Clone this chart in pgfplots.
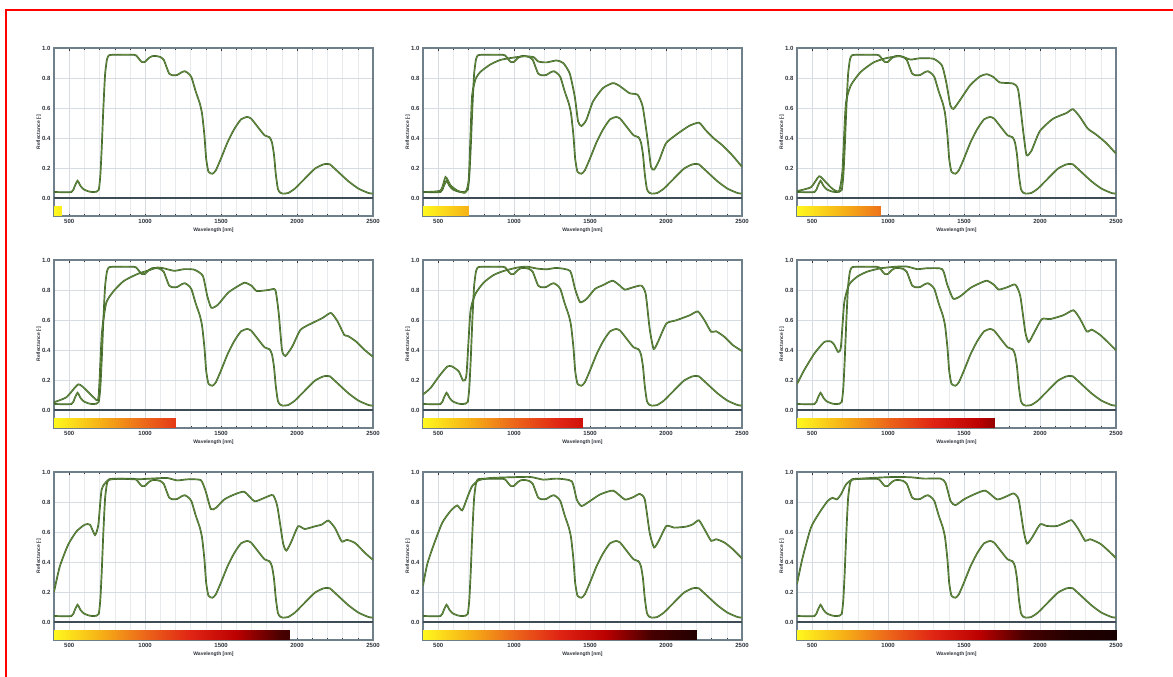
\documentclass[border=0pt]{standalone}
\usepackage{fontspec}
\setmainfont{Liberation Sans}
\usepackage{pgfplots}
\pgfplotsset{compat=1.18}
\usepackage{pgfplotstable}

\definecolor{curve}{RGB}{62,100,44}
\definecolor{curvehi}{RGB}{125,165,65}
\definecolor{frame}{RGB}{112,128,138}
\definecolor{zeroline}{RGB}{62,76,86}
\definecolor{txt}{RGB}{45,52,60}

% base spectrum (same in every panel)
\pgfplotstableread{
wl r
400 0.040
515 0.040
535 0.075
555 0.115
575 0.080
595 0.058
625 0.045
650 0.040
680 0.042
695 0.055
705 0.150
714 0.330
725 0.600
736 0.820
748 0.920
760 0.950
790 0.955
925 0.955
946 0.945
965 0.920
980 0.906
1000 0.908
1023 0.932
1045 0.945
1068 0.947
1100 0.940
1123 0.920
1140 0.875
1158 0.830
1180 0.818
1211 0.820
1240 0.838
1262 0.845
1285 0.830
1305 0.805
1333 0.710
1360 0.630
1375 0.560
1390 0.420
1402 0.260
1417 0.175
1443 0.162
1465 0.184
1498 0.260
1543 0.373
1587 0.460
1631 0.524
1671 0.540
1698 0.529
1742 0.473
1786 0.418
1819 0.405
1835 0.370
1848 0.290
1860 0.160
1874 0.060
1890 0.035
1907 0.029
1941 0.033
1985 0.062
2051 0.129
2118 0.196
2173 0.224
2200 0.227
2217 0.224
2272 0.173
2339 0.111
2405 0.062
2471 0.033
2500 0.029
}\base

\pgfplotstableread{
wl r
400 0.040
516 0.050
548 0.140
581 0.085
625 0.050
679 0.036
701 0.120
712 0.400
723 0.680
745 0.790
777 0.840
843 0.890
908 0.920
974 0.933
1061 0.944
1126 0.940
1159 0.910
1213 0.904
1279 0.917
1323 0.900
1366 0.830
1399 0.676
1421 0.510
1443 0.480
1475 0.520
1519 0.643
1584 0.732
1650 0.766
1693 0.748
1759 0.699
1813 0.688
1846 0.610
1879 0.386
1901 0.208
1922 0.190
1955 0.252
1999 0.364
2064 0.420
2151 0.480
2217 0.502
2260 0.453
2315 0.397
2369 0.353
2435 0.286
2500 0.208
}\sB

\pgfplotstableread{
wl r
400 0.046
492 0.072
546 0.145
590 0.105
634 0.061
677 0.046
699 0.180
721 0.620
754 0.750
819 0.840
906 0.905
994 0.934
1081 0.945
1147 0.923
1212 0.932
1299 0.928
1354 0.884
1382 0.774
1409 0.620
1430 0.594
1474 0.654
1540 0.752
1605 0.811
1649 0.825
1692 0.807
1736 0.770
1823 0.763
1856 0.720
1889 0.445
1911 0.287
1943 0.314
1998 0.445
2085 0.528
2173 0.566
2216 0.592
2260 0.544
2314 0.463
2369 0.423
2434 0.368
2500 0.296
}\sC

\pgfplotstableread{
wl r
400 0.052
482 0.085
560 0.171
615 0.130
664 0.081
693 0.085
715 0.510
744 0.715
793 0.793
859 0.860
948 0.906
1036 0.935
1081 0.950
1125 0.944
1192 0.928
1258 0.939
1325 0.935
1380 0.894
1409 0.760
1436 0.681
1480 0.703
1546 0.782
1613 0.827
1657 0.849
1702 0.827
1735 0.793
1813 0.800
1857 0.800
1879 0.647
1901 0.400
1923 0.360
1968 0.422
2023 0.535
2101 0.580
2167 0.613
2223 0.647
2267 0.590
2311 0.500
2334 0.494
2389 0.456
2445 0.400
2500 0.355
}\sD

\pgfplotstableread{
wl r
400 0.103
450 0.147
505 0.224
560 0.290
592 0.290
636 0.257
664 0.196
686 0.235
712 0.653
745 0.774
800 0.850
865 0.900
931 0.927
1018 0.949
1084 0.956
1149 0.943
1215 0.938
1280 0.947
1368 0.927
1401 0.807
1434 0.719
1477 0.741
1532 0.807
1586 0.833
1648 0.862
1696 0.829
1728 0.802
1783 0.818
1838 0.829
1866 0.774
1892 0.543
1918 0.407
1947 0.455
2002 0.576
2067 0.598
2155 0.631
2209 0.657
2253 0.598
2297 0.521
2329 0.525
2384 0.488
2439 0.433
2500 0.393
}\sE

\pgfplotstableread{
wl r
400 0.173
448 0.267
514 0.376
579 0.453
623 0.457
645 0.435
671 0.387
689 0.420
711 0.716
743 0.836
798 0.890
864 0.923
951 0.945
1061 0.956
1126 0.956
1192 0.939
1258 0.945
1356 0.939
1389 0.836
1428 0.742
1476 0.759
1542 0.814
1607 0.847
1651 0.862
1695 0.836
1728 0.803
1783 0.818
1837 0.836
1870 0.759
1903 0.519
1925 0.453
1957 0.508
2012 0.606
2067 0.606
2154 0.632
2220 0.665
2264 0.606
2308 0.523
2340 0.536
2395 0.501
2450 0.449
2500 0.398
}\sF

\pgfplotstableread{
wl r
400 0.200
438 0.370
493 0.515
548 0.604
603 0.649
637 0.649
670 0.580
692 0.649
714 0.884
758 0.946
835 0.955
946 0.951
1057 0.957
1145 0.960
1211 0.944
1278 0.951
1366 0.946
1399 0.870
1432 0.754
1465 0.760
1521 0.817
1587 0.850
1653 0.868
1720 0.805
1786 0.828
1841 0.846
1870 0.772
1908 0.526
1930 0.476
1963 0.537
2007 0.638
2051 0.620
2118 0.638
2162 0.649
2206 0.676
2250 0.626
2294 0.537
2327 0.548
2383 0.526
2449 0.459
2500 0.414
}\sG

\pgfplotstableread{
wl r
400 0.243
428 0.386
472 0.519
527 0.662
581 0.740
625 0.777
658 0.744
691 0.828
723 0.905
767 0.945
844 0.960
975 0.965
1106 0.967
1193 0.949
1280 0.956
1379 0.938
1412 0.817
1444 0.773
1499 0.806
1565 0.850
1652 0.876
1728 0.817
1783 0.832
1827 0.854
1860 0.817
1892 0.596
1921 0.497
1954 0.545
2002 0.640
2056 0.629
2133 0.636
2176 0.651
2216 0.678
2253 0.618
2297 0.541
2329 0.552
2384 0.530
2439 0.486
2500 0.424
}\sH

\pgfplotstableread{
wl r
400 0.254
437 0.430
492 0.630
547 0.728
601 0.806
634 0.828
662 0.817
689 0.850
722 0.916
765 0.949
886 0.960
1039 0.967
1148 0.965
1236 0.956
1345 0.956
1378 0.927
1411 0.806
1443 0.779
1498 0.817
1564 0.850
1640 0.876
1717 0.817
1782 0.839
1826 0.857
1859 0.817
1892 0.607
1914 0.523
1947 0.563
2001 0.651
2045 0.640
2111 0.640
2165 0.662
2209 0.678
2253 0.618
2297 0.541
2329 0.552
2395 0.523
2450 0.475
2500 0.426
}\sI

\pgfplotsset{
  colormap={heat}{rgb255=(255,248,30) rgb255=(246,178,22) rgb255=(236,102,26)
    rgb255=(224,36,20) rgb255=(188,0,0) rgb255=(72,0,0) rgb255=(36,0,0) rgb255=(24,0,0)},
  spec/.style={draw=curve, line width=1.7pt, smooth, tension=0.35, no marks,
    postaction={draw=curvehi, line width=0.35pt}},
  panel/.style={
    scale only axis, width=319pt, height=168pt, anchor=north west,
    xmin=400, xmax=2500, ymin=-0.12, ymax=1.0,
    xtick={500,1000,1500,2000,2500},
    ytick={0,0.2,0.4,0.6,0.8,1.0},
    minor x tick num=4,
    grid=both,
    major grid style={draw={rgb,255:red,214;green,220;blue,226}, line width=0.6pt},
    minor grid style={draw={rgb,255:red,232;green,235;blue,238}, line width=0.5pt},
    axis line style={draw=frame, line width=1.2pt},
    tick style={draw=txt, line width=0.4pt},
    major tick length=2.5pt, minor tick length=1.8pt,
    ytick style={draw=none},
    /pgf/number format/assume math mode=true,
    ticklabel style={font=\fontsize{6}{7}\selectfont\bfseries, text=txt},
    yticklabel style={/pgf/number format/.cd, fixed, fixed zerofill, precision=1},
    xticklabel style={/pgf/number format/.cd, 1000 sep={}},
    xlabel={Wavelength [nm]}, ylabel={Reflectance [-]},
    label style={font=\fontsize{5}{6}\selectfont\bfseries, text=txt},
    xlabel style={yshift=3pt}, ylabel style={yshift=-6pt},
    colormap name=heat, point meta min=400, point meta max=2500,
  },
}

\begin{document}
\begin{tikzpicture}
\useasboundingbox (0,0) rectangle (1173pt,-677pt);
\fill[white] (0,0) rectangle (1173pt,-677pt);
\draw[red, line width=2pt] (6pt,-677pt) -- (6pt,-10pt) -- (1173pt,-10pt);

% row 1
\begin{axis}[panel, at={(54pt,-48pt)}]
\addplot[surf, shader=interp, point meta=x, mesh/rows=2] coordinates {(400,-0.055) (450,-0.055) (400,-0.118) (450,-0.118)};
\addplot[zeroline, line width=1.6pt] coordinates {(400,0) (2500,0)};
\addplot[spec] table[x=wl, y=r] {\base};
\end{axis}

\begin{axis}[panel, at={(423pt,-48pt)}]
\addplot[surf, shader=interp, point meta=x, mesh/rows=2] coordinates {(400,-0.055) (700,-0.055) (400,-0.118) (700,-0.118)};
\addplot[zeroline, line width=1.6pt] coordinates {(400,0) (2500,0)};
\addplot[spec] table[x=wl, y=r] {\base};
\addplot[spec] table[x=wl, y=r] {\sB};
\end{axis}

\begin{axis}[panel, at={(797pt,-48pt)}]
\addplot[surf, shader=interp, point meta=x, mesh/rows=2] coordinates {(400,-0.055) (950,-0.055) (400,-0.118) (950,-0.118)};
\addplot[zeroline, line width=1.6pt] coordinates {(400,0) (2500,0)};
\addplot[spec] table[x=wl, y=r] {\base};
\addplot[spec] table[x=wl, y=r] {\sC};
\end{axis}

% row 2
\begin{axis}[panel, at={(54pt,-260pt)}]
\addplot[surf, shader=interp, point meta=x, mesh/rows=2] coordinates {(400,-0.055) (1200,-0.055) (400,-0.118) (1200,-0.118)};
\addplot[zeroline, line width=1.6pt] coordinates {(400,0) (2500,0)};
\addplot[spec] table[x=wl, y=r] {\base};
\addplot[spec] table[x=wl, y=r] {\sD};
\end{axis}

\begin{axis}[panel, at={(423pt,-260pt)}]
\addplot[surf, shader=interp, point meta=x, mesh/rows=2] coordinates {(400,-0.055) (1450,-0.055) (400,-0.118) (1450,-0.118)};
\addplot[zeroline, line width=1.6pt] coordinates {(400,0) (2500,0)};
\addplot[spec] table[x=wl, y=r] {\base};
\addplot[spec] table[x=wl, y=r] {\sE};
\end{axis}

\begin{axis}[panel, at={(797pt,-260pt)}]
\addplot[surf, shader=interp, point meta=x, mesh/rows=2] coordinates {(400,-0.055) (1700,-0.055) (400,-0.118) (1700,-0.118)};
\addplot[zeroline, line width=1.6pt] coordinates {(400,0) (2500,0)};
\addplot[spec] table[x=wl, y=r] {\base};
\addplot[spec] table[x=wl, y=r] {\sF};
\end{axis}

% row 3
\begin{axis}[panel, at={(54pt,-472pt)}]
\addplot[surf, shader=interp, point meta=x, mesh/rows=2] coordinates {(400,-0.055) (1950,-0.055) (400,-0.118) (1950,-0.118)};
\addplot[zeroline, line width=1.6pt] coordinates {(400,0) (2500,0)};
\addplot[spec] table[x=wl, y=r] {\base};
\addplot[spec] table[x=wl, y=r] {\sG};
\end{axis}

\begin{axis}[panel, at={(423pt,-472pt)}]
\addplot[surf, shader=interp, point meta=x, mesh/rows=2] coordinates {(400,-0.055) (2200,-0.055) (400,-0.118) (2200,-0.118)};
\addplot[zeroline, line width=1.6pt] coordinates {(400,0) (2500,0)};
\addplot[spec] table[x=wl, y=r] {\base};
\addplot[spec] table[x=wl, y=r] {\sH};
\end{axis}

\begin{axis}[panel, at={(797pt,-472pt)}]
\addplot[surf, shader=interp, point meta=x, mesh/rows=2] coordinates {(400,-0.055) (2500,-0.055) (400,-0.118) (2500,-0.118)};
\addplot[zeroline, line width=1.6pt] coordinates {(400,0) (2500,0)};
\addplot[spec] table[x=wl, y=r] {\base};
\addplot[spec] table[x=wl, y=r] {\sI};
\end{axis}
\end{tikzpicture}
\end{document}
